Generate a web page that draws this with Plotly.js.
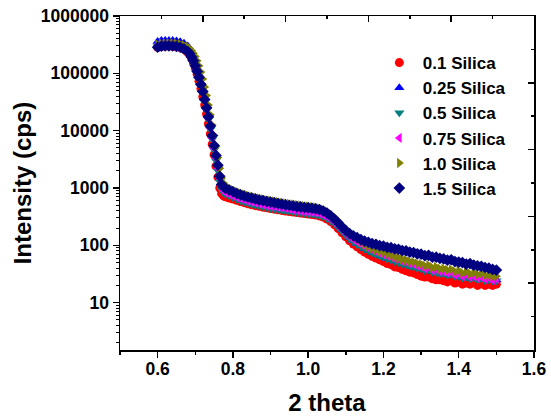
<!DOCTYPE html>
<html>
<head>
<meta charset="utf-8">
<script src="https://cdn.plot.ly/plotly-3.0.1.min.js"></script>
<style>
html,body{margin:0;padding:0;background:#fff;}
#chart{width:551px;height:419px;}
</style>
</head>
<body>
<div id="chart"></div>
<script>
// 2 theta values (shared by all series)
const twoTheta = [0.60,0.61,0.62,0.63,0.64,0.65,0.66,0.67,
0.68,0.685,0.69,0.695,0.70,0.705,0.71,0.715,0.72,0.725,0.73,0.735,0.74,0.745,0.75,0.755,0.76,0.765,0.77,0.775,0.78,
0.79,0.80,0.81,0.82,0.83,0.84,0.85,0.86,0.87,0.88,0.89,0.90,0.91,0.92,0.93,0.94,0.95,0.96,0.97,0.98,0.99,
1.00,1.01,1.02,1.03,1.04,1.05,1.06,1.07,1.08,1.09,1.10,1.11,1.12,1.13,1.14,1.15,1.16,1.17,1.18,1.19,
1.20,1.21,1.22,1.23,1.24,1.25,1.26,1.27,1.28,1.29,1.30,1.31,1.32,1.33,1.34,1.35,1.36,1.37,1.38,1.39,
1.40,1.41,1.42,1.43,1.44,1.45,1.46,1.47,1.48,1.49,1.50];

const silica01 = [285000,296000,300000,300000,297000,291000,281000,263000,
233000,210000,182000,153000,123000,96000,73000,54000,39000,28000,19500,13200,8800,5800,3800,2400,1550,1000,800,730,700,
670,640,610,580,555,530,510,492,478,463,450,438,427,416,406,396,388,380,372,365,358,
352,345,337,326,310,288,260,228,195,165,140,120,105,94,84,76,70,64,60,56,
52,48,46,42,41,38,36,34,33,31,29,28,28,26,25,25,24,23,24,22,
23,21,22,21,23,20,22,20,21,20,21];

const silica025 = [360000,372000,375000,375000,372000,366000,355000,335000,
300000,272000,238000,200000,160000,125000,96000,70000,52000,37000,26500,18500,12800,8600,5800,3900,2600,1700,1200,1080,1010,
960,900,850,800,760,725,700,675,650,630,610,595,580,565,550,540,525,515,505,495,485,
475,465,450,430,400,360,315,270,228,190,160,138,120,108,98,88,82,76,72,66,
63,59,57,53,52,48,47,44,43,41,40,37,38,35,35,33,33,31,32,30,
30,28,29,27,28,26,27,25,26,25,25];

const silica05 = [290000,300000,305000,305000,302000,297000,287000,270000,
242000,220000,192000,163000,132000,104000,80000,60000,44000,32000,22500,15500,10500,7000,4600,3000,2000,1300,950,830,780,
730,680,640,600,570,545,520,500,485,470,455,440,430,420,410,400,392,385,375,370,362,
355,348,340,330,315,295,268,238,205,175,150,130,115,103,94,86,80,74,70,65,
62,58,56,52,50,47,46,43,42,40,39,36,37,34,34,32,32,30,31,29,
29,27,28,26,27,25,26,24,25,24,24];

const silica075 = [292000,305000,310000,310000,306000,300000,290000,272000,
245000,222000,194000,166000,135000,107000,83000,62000,46000,33500,23500,16200,11000,7400,4900,3300,2200,1450,1050,900,840,
790,740,700,660,630,600,575,555,535,520,505,490,478,465,455,442,432,422,412,405,398,
390,382,372,360,342,318,288,255,220,188,162,142,127,115,105,97,90,84,79,73,
70,66,63,59,57,53,52,48,47,44,43,40,41,37,38,35,35,33,34,31,
32,29,31,28,29,27,28,26,27,25,26];

const silica10 = [320000,332000,336000,336000,334000,330000,322000,308000,
290000,272000,250000,225000,196000,165000,135000,105000,80000,58000,41000,28000,19000,12500,8200,5300,3400,2200,1500,1220,1100,
990,920,860,810,770,735,705,680,655,635,615,598,582,568,553,540,528,517,506,496,487,
478,468,456,440,418,388,350,308,265,225,192,165,145,128,115,104,96,89,83,78,
74,70,66,63,60,57,55,52,51,48,47,44,45,41,42,39,39,37,38,35,
36,33,35,32,33,31,32,30,30,29,29];

const silica15 = [285000,298000,302000,302000,300000,295000,285000,268000,
240000,220000,192000,165000,135000,108000,85000,64000,48000,35000,25000,17500,12000,8200,5500,3700,2500,1600,1150,1040,980,
920,860,800,760,720,690,665,640,615,600,580,565,550,535,520,505,495,485,470,465,455,
450,442,432,418,395,365,325,285,245,208,180,160,146,136,126,118,113,107,104,99,
97,92,91,87,85,81,80,76,75,71,70,66,67,62,62,59,58,55,56,52,
51,50,47,48,45,44,43,41,40,38,37];

const seriesNames = ['0.1 Silica','0.25 Silica','0.5 Silica','0.75 Silica','1.0 Silica','1.5 Silica'];
const seriesValues = [silica01, silica025, silica05, silica075, silica10, silica15];
const seriesColors = ['#FF0000','#0000FF','#008080','#FF00FF','#808000','#000080'];
const seriesSymbols = ['circle','triangle-up','triangle-down','triangle-left','triangle-right','diamond'];

const FONT = 'Liberation Sans, Arial, Helvetica, sans-serif';

const traces = seriesNames.map((n,i)=>({
  type:'scatter', mode:'markers', name:n,
  x: twoTheta, y: seriesValues[i],
  marker:{color:seriesColors[i], symbol:seriesSymbols[i], size:9, line:{width:0}},
  xaxis:'x', yaxis:'y'
}));
// empty helper trace so the mirrored top / right frame axes (inward ticks) are drawn
traces.push({type:'scatter', mode:'markers', x:[], y:[], xaxis:'x2', yaxis:'y2',
  showlegend:false, hoverinfo:'skip'});

const frameAxis = (side, anchor, over) => ({
  overlaying:over, side:side, anchor:anchor, range:[0,10], tickmode:'linear', tick0:0, dtick:2,
  ticks:'inside', ticklen:6, tickwidth:1.5, tickcolor:'#000', showticklabels:false,
  minor:{dtick:1, ticks:'inside', ticklen:3, tickwidth:1.5, tickcolor:'#000'},
  showline:true, linewidth:1.5, linecolor:'#000', showgrid:false, zeroline:false, fixedrange:true
});

const layout = {
  width:551, height:419,
  margin:{l:120, r:17, t:16, b:69, pad:0},
  paper_bgcolor:'#ffffff', plot_bgcolor:'#ffffff',
  font:{family:FONT, color:'#000'},
  showlegend:true,
  legend:{x:0.618, y:0.913, xanchor:'left', yanchor:'top',
    font:{family:FONT, size:17, weight:'bold', color:'#000'},
    bgcolor:'rgba(0,0,0,0)', borderwidth:0, itemwidth:37, tracegroupgap:0},
  xaxis:{
    range:[0.5,1.6], tickmode:'linear', tick0:0.6, dtick:0.2, tickformat:'.1f',
    ticks:'outside', ticklen:6, tickwidth:1.5, tickcolor:'#000', ticklabelstandoff:-4,
    minor:{dtick:0.1, tick0:0.5, ticks:'outside', ticklen:3, tickwidth:1.5, tickcolor:'#000'},
    showline:true, linewidth:1.5, linecolor:'#000', mirror:false,
    showgrid:false, zeroline:false,
    tickfont:{family:FONT, size:17.5, weight:'bold', color:'#000'},
    title:{text:'2 theta', font:{family:FONT, size:24, weight:'bold', color:'#000'}, standoff:16}
  },
  yaxis:{
    type:'log', range:[0.174,6.0], tickmode:'linear', tick0:0, dtick:1, tickformat:'d',
    ticks:'outside', ticklen:6, tickwidth:1.5, tickcolor:'#000',
    minor:{dtick:'D1', ticks:'outside', ticklen:3, tickwidth:1, tickcolor:'#000'},
    showline:true, linewidth:1.5, linecolor:'#000', mirror:false,
    showgrid:false, zeroline:false,
    tickfont:{family:FONT, size:17.5, weight:'bold', color:'#000'},
    title:{text:'Intensity (cps)', font:{family:FONT, size:24, weight:'bold', color:'#000'}, standoff:2}
  },
  xaxis2: frameAxis('top','y','x'),
  yaxis2: frameAxis('right','x','y')
};

Plotly.newPlot('chart', traces, layout, {staticPlot:true, displayModeBar:false});
</script>
</body>
</html>
